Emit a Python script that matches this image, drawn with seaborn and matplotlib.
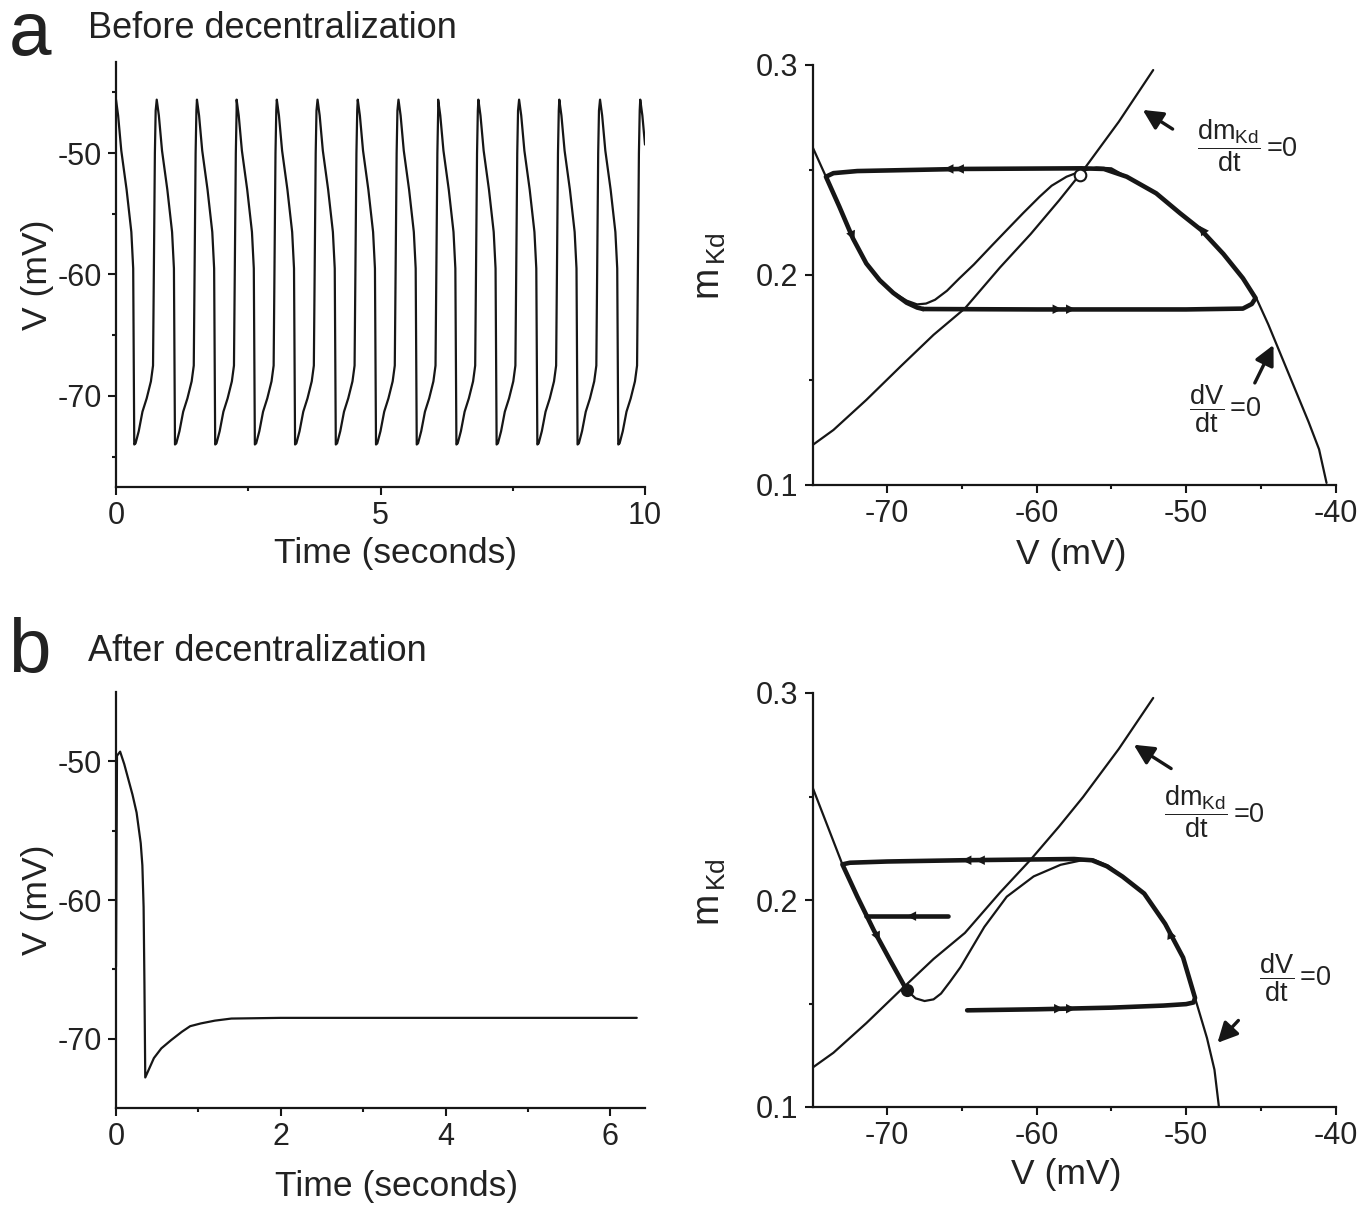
import matplotlib
matplotlib.use("Agg")
import matplotlib.pyplot as plt
import seaborn as sns
import pandas as pd
from matplotlib.ticker import FixedLocator

# ---------------- data ----------------
# (a) left: voltage trace, one spike cycle (offsets from peak, s) and the peak times
CYCLE_DT = [0.0, 0.04, 0.10, 0.20, 0.29, 0.325, 0.335, 0.345, 0.37, 0.43, 0.50,
            0.58, 0.66, 0.70, 0.715, 0.735, 0.75]
CYCLE_V = [-45.6, -46.9, -49.8, -53.0, -56.5, -59.5, -67.0, -74.0, -73.9, -72.9, -71.3,
           -70.2, -68.8, -67.5, -60.0, -50.0, -46.5]
PEAK_T = [0.0, 0.77, 1.53, 2.28, 3.04, 3.81, 4.57, 5.34, 6.09, 6.85, 7.62, 8.38, 9.15, 9.91]
END_T, END_V = 10.0, -49.3

# (b) left: voltage trace after decentralization
B_T = [0.0, 0.012, 0.05, 0.10, 0.15, 0.20, 0.25, 0.30, 0.32, 0.335, 0.345, 0.355, 0.40, 0.46,
       0.55, 0.67, 0.80, 0.90, 1.03, 1.20, 1.40, 2.0, 3.0, 4.0, 5.0, 6.32]
B_V = [-64.8, -49.6, -49.3, -50.2, -51.3, -52.4, -53.7, -55.9, -57.5, -60.5, -66.0, -72.8, -72.2,
       -71.4, -70.7, -70.1, -69.5, -69.1, -68.9, -68.7, -68.55, -68.5, -68.5, -68.5, -68.5, -68.5]

# dm_Kd/dt = 0 nullcline (same in both phase planes)
MNULL_V = [-75.0, -73.6, -71.4, -69.1, -66.9, -64.8, -62.45, -60.4, -58.5, -56.9, -54.5, -52.2]
MNULL_M = [0.119, 0.1262, 0.1405, 0.1565, 0.1715, 0.1841, 0.2036, 0.2195, 0.2355, 0.2497, 0.2730, 0.2976]

# (a) right: dV/dt = 0 nullcline
A_VNULL_V = [-75.0, -74.1, -73.2, -72.3, -71.4, -70.5, -69.6, -68.7, -68.0, -67.4, -66.8, -66.0, -65.2,
             -64.2, -63.0, -62.0, -60.9, -59.8, -59.0, -58.0, -57.0, -56.0, -55.0, -54.0, -53.0,
             -52.0, -50.4, -49.0, -47.5, -46.2, -45.3, -44.5, -43.6, -42.7, -41.8, -41.1, -40.6]
A_VNULL_M = [0.261, 0.2468, 0.2325, 0.2175, 0.2055, 0.1975, 0.1918, 0.1878, 0.186, 0.1864, 0.1882, 0.1925, 0.1982,
             0.2050, 0.214, 0.2214, 0.2295, 0.2373, 0.2425, 0.2468, 0.2495, 0.2512, 0.2508, 0.2468, 0.243,
             0.2389, 0.2294, 0.2215, 0.21, 0.1985, 0.189, 0.1765, 0.161, 0.1455, 0.13, 0.117, 0.101]
# (a) right: limit cycle
A_CYC_V = [-67.6, -60.0, -50.0, -46.2, -45.6, -45.35, -46.2, -47.5, -49.0, -50.4, -52.0, -53.97,
           -55.5, -57.0, -65.0, -72.0, -73.6, -74.1, -73.2, -72.3, -71.4, -70.5, -69.6, -68.7, -68.0, -67.6]
A_CYC_M = [0.1838, 0.1836, 0.1836, 0.1840, 0.1862, 0.189, 0.1985, 0.21, 0.2215, 0.2294, 0.2389, 0.2468,
           0.2505, 0.2508, 0.2505, 0.2495, 0.2485, 0.2468, 0.2325, 0.2175, 0.2055, 0.1975, 0.1915, 0.1868,
           0.1845, 0.1838]
A_FIXED = (-57.1, 0.2476)
# arrowheads on the cycle: tail (V, m) -> head (V, m)
A_ARROWS = [((-65.7, 0.2505), (-66.2, 0.2505)), ((-65.0, 0.2505), (-65.5, 0.2505)),
            ((-58.8, 0.1837), (-58.3, 0.1837)), ((-57.9, 0.1837), (-57.4, 0.1837)),
            ((-48.6, 0.2185), (-49.1, 0.2234)), ((-72.5, 0.2215), (-72.2, 0.2165))]

# (b) right: dV/dt = 0 nullcline
B_VNULL_V = [-75.0, -73.0, -72.0, -70.9, -69.8, -68.7, -68.1, -67.5, -66.9, -66.4, -65.8, -65.1, -63.5,
             -62.0, -60.2, -58.4, -57.1, -56.2, -55.2, -54.25, -52.8, -51.4, -50.2, -49.4, -48.6, -48.1, -47.8]
B_VNULL_M = [0.2545, 0.2172, 0.2016, 0.1854, 0.1708, 0.1565, 0.1525, 0.1512, 0.1520, 0.1548, 0.1605, 0.1675,
             0.187, 0.2016, 0.2114, 0.217, 0.219, 0.2196, 0.2165, 0.2113, 0.2031, 0.1885, 0.1722, 0.1527,
             0.1333, 0.118, 0.1]
# (b) right: trajectory to the stable point and a second short trajectory
B_TRAJ_V = [-64.65, -60.0, -55.0, -51.5, -50.0, -49.5, -49.4, -50.2, -51.4, -52.8, -54.25, -55.3,
            -56.3, -57.5, -60.0, -65.0, -70.0, -72.5, -73.0, -72.0, -70.9, -69.8, -68.7]
B_TRAJ_M = [0.1467, 0.1472, 0.148, 0.149, 0.1497, 0.1505, 0.1527, 0.1722, 0.1885, 0.2031, 0.2113, 0.2163,
            0.2192, 0.2198, 0.2196, 0.2192, 0.2186, 0.218, 0.2172, 0.2016, 0.1854, 0.1708, 0.1565]
B_SHORT_V = [-65.9, -71.44]
B_SHORT_M = [0.1922, 0.1922]
B_FIXED = (-68.7, 0.1565)
B_ARROWS = [((-64.5, 0.2192), (-65.0, 0.2192)), ((-63.6, 0.2192), (-64.1, 0.2192)),
            ((-58.7, 0.1475), (-58.2, 0.1475)), ((-57.9, 0.1475), (-57.4, 0.1475)),
            ((-68.2, 0.1922), (-68.7, 0.1922)), ((-70.8, 0.1846), (-70.5, 0.1801)),
            ((-50.9, 0.1805), (-51.2, 0.1858))]

# nullcline labels: (left V, bar m) and pointer arrows (tail -> head)
A_DM_LABEL = (-49.3, 0.2616); A_DM_ARROW = ((-50.9, 0.2695), (-52.9, 0.2786))
A_DV_LABEL = (-49.8, 0.1362); A_DV_ARROW = ((-45.4, 0.1486), (-44.15, 0.1667))
B_DM_LABEL = (-51.5, 0.2426); B_DM_ARROW = ((-51.0, 0.2635), (-53.5, 0.275))
B_DV_LABEL = (-45.1, 0.1626); B_DV_ARROW = ((-46.5, 0.1418), (-47.9, 0.131))

# ---------------- style ----------------
sns.set_theme(style="ticks")
plt.rcParams["font.family"] = ["Liberation Sans", "DejaVu Sans"]
plt.rcParams["mathtext.fontset"] = "custom"
plt.rcParams["mathtext.rm"] = "Liberation Sans"
plt.rcParams["mathtext.it"] = "Liberation Sans"
plt.rcParams["mathtext.bf"] = "Liberation Sans:bold"
plt.rcParams["axes.unicode_minus"] = False

INK = "#161616"
TXT = "#222222"
TICK_FS, LABEL_FS, TITLE_FS, LETTER_FS, NOTE_FS = 22, 25.5, 26, 55, 19.5
THIN, THICK = 1.6, 3.3

fig = plt.figure(figsize=(13.65, 12.05), dpi=100)
W, H = 1365.0, 1205.0


def add_axes(x0, x1, ytop, ybot):
    return fig.add_axes([x0 / W, 1 - ybot / H, (x1 - x0) / W, (ybot - ytop) / H])


ax_tl = add_axes(116, 645, 62, 487)
ax_tr = add_axes(812.5, 1335.5, 65, 485)
ax_bl = add_axes(116, 645, 692, 1108)
ax_br = add_axes(812.5, 1335.5, 693, 1107)


def style(ax, xlim, ylim, xmaj, xmin, ymaj, ymin):
    ax.set_xlim(*xlim)
    ax.set_ylim(*ylim)
    ax.xaxis.set_major_locator(FixedLocator(xmaj))
    ax.xaxis.set_minor_locator(FixedLocator(xmin))
    ax.yaxis.set_major_locator(FixedLocator(ymaj))
    ax.yaxis.set_minor_locator(FixedLocator(ymin))
    sns.despine(ax=ax)
    for s in ("left", "bottom"):
        ax.spines[s].set_linewidth(1.6)
        ax.spines[s].set_color(INK)
    ax.tick_params(which="major", length=5.5, width=1.5, color=INK, labelsize=TICK_FS,
                   labelcolor=TXT, pad=4.5)
    ax.tick_params(which="minor", length=3, width=1.5, color=INK)
    ax.set_facecolor("white")


# ---- (a) left trace ----
t_all, v_all = [], []
for pk in PEAK_T:
    for dt, v in zip(CYCLE_DT, CYCLE_V):
        if pk + dt < END_T:
            t_all.append(pk + dt)
            v_all.append(v)
t_all.append(END_T)
v_all.append(END_V)
df_a = pd.DataFrame({"t": t_all, "V": v_all})
sns.lineplot(data=df_a, x="t", y="V", sort=False, estimator=None, ax=ax_tl, color=INK, lw=THIN)
style(ax_tl, (0, 10), (-77.5, -42.5), [0, 5, 10], [2.5, 7.5], [-70, -60, -50], [-75, -65, -55, -45])
ax_tl.set_xticklabels(["0", "5", "10"])

# ---- (b) left trace ----
df_b = pd.DataFrame({"t": B_T, "V": B_V})
sns.lineplot(data=df_b, x="t", y="V", sort=False, estimator=None, ax=ax_bl, color=INK, lw=THIN)
style(ax_bl, (0, 6.42), (-75, -45), [0, 2, 4, 6], [1, 3, 5], [-70, -60, -50], [-65, -55])
ax_bl.set_xticklabels(["0", "2", "4", "6"])


def line(ax, xs, ys, lw):
    sns.lineplot(x=xs, y=ys, sort=False, estimator=None, ax=ax, color=INK, lw=lw,
                 solid_capstyle="round", solid_joinstyle="round")


def heads(ax, arrows):
    for (tx, ty), (hx, hy) in arrows:
        ax.annotate("", xy=(hx, hy), xytext=(tx, ty),
                    arrowprops=dict(arrowstyle="-|>", color=INK, lw=0.01, mutation_scale=17,
                                    shrinkA=0, shrinkB=0))


def nlabel(ax, pos, numer, arrow):
    ax.text(pos[0], pos[1], r"$\dfrac{" + numer + r"}{\mathrm{dt}}\,$=0", fontsize=NOTE_FS,
            color=TXT, ha="left", va="center")
    (tx, ty), (hx, hy) = arrow
    ax.annotate("", xy=(hx, hy), xytext=(tx, ty),
                arrowprops=dict(arrowstyle="-|>", color=INK, lw=2.4, mutation_scale=30,
                                shrinkA=0, shrinkB=0))


# ---- (a) right phase plane ----
line(ax_tr, MNULL_V, MNULL_M, THIN)
line(ax_tr, A_VNULL_V, A_VNULL_M, THIN)
line(ax_tr, A_CYC_V, A_CYC_M, THICK)
heads(ax_tr, A_ARROWS)
sns.scatterplot(x=[A_FIXED[0]], y=[A_FIXED[1]], ax=ax_tr, s=70, facecolor="white",
                edgecolor=INK, linewidth=1.5, zorder=5)
nlabel(ax_tr, A_DM_LABEL, r"\mathrm{dm}_{\mathrm{Kd}}", A_DM_ARROW)
nlabel(ax_tr, A_DV_LABEL, r"\mathrm{dV}", A_DV_ARROW)
style(ax_tr, (-75, -40), (0.1, 0.3), [-70, -60, -50, -40], [-65, -55, -45], [0.1, 0.2, 0.3], [0.15, 0.25])
ax_tr.set_xticklabels(["-70", "-60", "-50", "-40"])
ax_tr.set_yticklabels(["0.1", "0.2", "0.3"])

# ---- (b) right phase plane ----
line(ax_br, MNULL_V, MNULL_M, THIN)
line(ax_br, B_VNULL_V, B_VNULL_M, THIN)
line(ax_br, B_TRAJ_V, B_TRAJ_M, THICK)
line(ax_br, B_SHORT_V, B_SHORT_M, THICK)
heads(ax_br, B_ARROWS)
sns.scatterplot(x=[B_FIXED[0]], y=[B_FIXED[1]], ax=ax_br, s=90, color=INK, edgecolor=INK,
                linewidth=0, zorder=5)
nlabel(ax_br, B_DM_LABEL, r"\mathrm{dm}_{\mathrm{Kd}}", B_DM_ARROW)
nlabel(ax_br, B_DV_LABEL, r"\mathrm{dV}", B_DV_ARROW)
style(ax_br, (-75, -40), (0.1, 0.3), [-70, -60, -50, -40], [-65, -55, -45], [0.1, 0.2, 0.3], [0.15, 0.25])
ax_br.set_xticklabels(["-70", "-60", "-50", "-40"])
ax_br.set_yticklabels(["0.1", "0.2", "0.3"])

# ---- axis labels ----
for ax in (ax_tl, ax_bl):
    ax.set_xlabel("Time (seconds)", fontsize=LABEL_FS, color=TXT)
    ax.set_ylabel("V (mV)", fontsize=LABEL_FS, color=TXT)
for ax in (ax_tr, ax_br):
    ax.set_xlabel("V (mV)", fontsize=LABEL_FS, color=TXT)
    ax.set_ylabel(r"$\mathrm{m}_{\,\mathrm{Kd}}$", fontsize=LABEL_FS + 1.5, color=TXT)

ax_tl.xaxis.set_label_coords(0.528, -0.118)
ax_tl.yaxis.set_label_coords(-0.118, 0.5)
ax_bl.xaxis.set_label_coords(0.53, -0.15)
ax_bl.yaxis.set_label_coords(-0.118, 0.5)
ax_tr.xaxis.set_label_coords(0.495, -0.127)
ax_tr.yaxis.set_label_coords(-0.162, 0.52)
ax_br.xaxis.set_label_coords(0.485, -0.124)
ax_br.yaxis.set_label_coords(-0.162, 0.52)

# ---- panel letters and titles ----
fig.text(9 / W, 1 - 55 / H, "a", fontsize=LETTER_FS, color=TXT, va="baseline", ha="left")
fig.text(8 / W, 1 - 672 / H, "b", fontsize=LETTER_FS, color=TXT, va="baseline", ha="left")
fig.text(88 / W, 1 - 38 / H, "Before decentralization", fontsize=TITLE_FS, color=TXT,
         va="baseline", ha="left")
fig.text(88 / W, 1 - 661 / H, "After decentralization", fontsize=TITLE_FS, color=TXT,
         va="baseline", ha="left")

fig.savefig("out.png", dpi=100, facecolor="white")
